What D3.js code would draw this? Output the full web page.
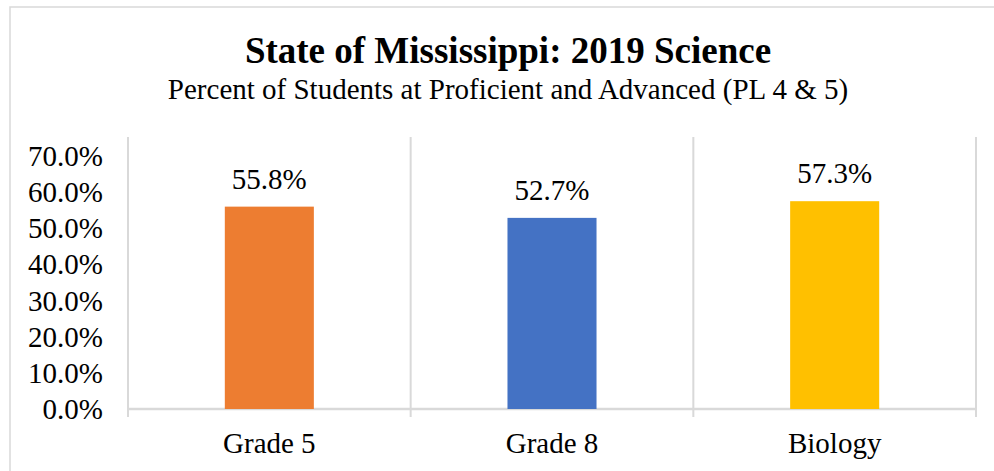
<!DOCTYPE html>
<html>
<head>
<meta charset="utf-8">
<script src="https://cdn.jsdelivr.net/npm/d3@7"></script>
<style>
  body { margin: 0; background: #fff; }
  text { font-family: "Times New Roman", "Liberation Serif", serif; fill: #000; }
</style>
</head>
<body>
<div id="chart"></div>
<script>
var categories = ['Grade 5', 'Grade 8', 'Biology'];
var values = [0.558, 0.527, 0.573];
var bar_colors = ['#ED7D31', '#4472C4', '#FFC000'];
var y_ticks = [0, 0.1, 0.2, 0.3, 0.4, 0.5, 0.6, 0.7];

var chart_width = 994;
var chart_height = 471;
var grid_color = '#d9d9d9';

var svg = d3.select('#chart')
    .append('svg')
    .attr('width', chart_width)
    .attr('height', chart_height);

// outer chart border (runs off the right and bottom edges)
svg.append('rect')
    .attr('x', 10)
    .attr('y', 7)
    .attr('width', 1000)
    .attr('height', 500)
    .attr('fill', 'none')
    .attr('stroke', grid_color)
    .attr('stroke-width', 1.5);

// titles
svg.append('text')
    .attr('x', 508)
    .attr('y', 63)
    .attr('text-anchor', 'middle')
    .style('font-size', '37px')
    .style('font-weight', 'bold')
    .text('State of Mississippi: 2019 Science');

svg.append('text')
    .attr('x', 508)
    .attr('y', 99)
    .attr('text-anchor', 'middle')
    .style('font-size', '29px')
    .text('Percent of Students at Proficient and Advanced (PL 4 & 5)');

var plot = { left: 128, right: 976, top: 137, bottom: 409 };

var x_scale = d3.scaleBand()
    .domain(categories)
    .range([plot.left, plot.right])
    .padding(0);

var y_scale = d3.scaleLinear()
    .domain([0, 0.75])
    .range([plot.bottom, plot.top]);

// vertical gridlines / category boundaries, extended below axis as ticks
var bounds = categories.map(function (c) { return x_scale(c); });
bounds.push(x_scale(categories[categories.length - 1]) + x_scale.bandwidth());

svg.selectAll('line.vgrid')
    .data(bounds)
    .enter()
    .append('line')
    .attr('class', 'vgrid')
    .attr('x1', function (d) { return d; })
    .attr('x2', function (d) { return d; })
    .attr('y1', plot.top)
    .attr('y2', plot.bottom + 8)
    .attr('stroke', grid_color)
    .attr('stroke-width', 2);

// category axis line
svg.append('line')
    .attr('x1', plot.left)
    .attr('x2', plot.right)
    .attr('y1', y_scale(0))
    .attr('y2', y_scale(0))
    .attr('stroke', grid_color)
    .attr('stroke-width', 2.5);

// y tick labels
var y_axis = d3.axisLeft(y_scale)
    .tickValues(y_ticks)
    .tickFormat(d3.format('.1%'))
    .tickSize(0)
    .tickPadding(25);

var y_g = svg.append('g')
    .attr('transform', 'translate(' + plot.left + ',0)')
    .call(y_axis);
y_g.select('.domain').remove();
y_g.selectAll('text')
    .style('font-size', '29px')
    .style('font-family', '"Times New Roman", "Liberation Serif", serif')
    .attr('fill', '#000')
    .attr('dy', '0.34em');

// bars
var bar_width = x_scale.bandwidth() * 0.315;
svg.selectAll('rect.bar')
    .data(values)
    .enter()
    .append('rect')
    .attr('class', 'bar')
    .attr('x', function (d, i) {
        return x_scale(categories[i]) + x_scale.bandwidth() / 2 - bar_width / 2;
    })
    .attr('y', function (d) { return y_scale(d); })
    .attr('width', bar_width)
    .attr('height', function (d) { return y_scale(0) - y_scale(d); })
    .attr('fill', function (d, i) { return bar_colors[i]; });

// data labels
svg.selectAll('text.label')
    .data(values)
    .enter()
    .append('text')
    .attr('class', 'label')
    .attr('x', function (d, i) {
        return x_scale(categories[i]) + x_scale.bandwidth() / 2;
    })
    .attr('y', function (d) { return y_scale(d) - 18; })
    .attr('text-anchor', 'middle')
    .style('font-size', '29px')
    .text(function (d) { return d3.format('.1%')(d); });

// category labels
svg.selectAll('text.cat')
    .data(categories)
    .enter()
    .append('text')
    .attr('class', 'cat')
    .attr('x', function (d) { return x_scale(d) + x_scale.bandwidth() / 2; })
    .attr('y', 453)
    .attr('text-anchor', 'middle')
    .style('font-size', '29px')
    .text(function (d) { return d; });
</script>
</body>
</html>
